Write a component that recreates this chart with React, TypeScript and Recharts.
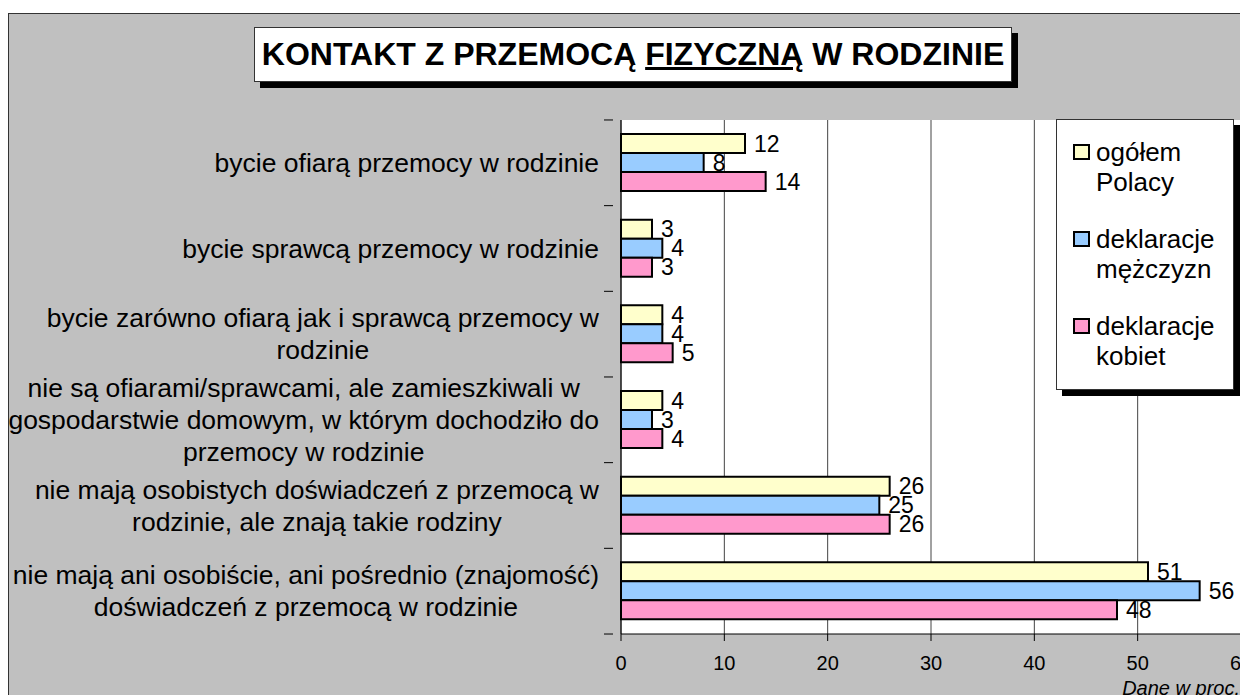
import React from 'react';
import { BarChart, Bar, XAxis, YAxis, CartesianGrid, LabelList } from 'recharts';

const categories = [
  ['bycie ofiarą przemocy w rodzinie'],
  ['bycie sprawcą przemocy w rodzinie'],
  ['bycie zarówno ofiarą jak i sprawcą przemocy w', 'rodzinie'],
  ['nie są ofiarami/sprawcami, ale zamieszkiwali w', 'gospodarstwie domowym, w którym dochodziło do', 'przemocy w rodzinie'],
  ['nie mają osobistych doświadczeń z przemocą w', 'rodzinie, ale znają takie rodziny'],
  ['nie mają ani osobiście, ani pośrednio (znajomość)', 'doświadczeń z przemocą w rodzinie'],
];

const ogolem = [12, 3, 4, 4, 26, 51];
const mezczyzni = [8, 4, 4, 3, 25, 56];
const kobiety = [14, 3, 5, 4, 26, 48];

const xTicks = [0, 10, 20, 30, 40, 50, 60];

const series = [
  { key: 'ogolem', name: ['ogółem', 'Polacy'], color: '#ffffcc' },
  { key: 'mezczyzni', name: ['deklaracje', 'mężczyzn'], color: '#99ccff' },
  { key: 'kobiety', name: ['deklaracje', 'kobiet'], color: '#ff99cc' },
];

const data = categories.map((lines, i) => ({
  label: lines.join(' '),
  ogolem: ogolem[i],
  mezczyzni: mezczyzni[i],
  kobiety: kobiety[i],
}));

const FONT = "'Liberation Sans', Arial, sans-serif";
const LABEL_SIZE = 26.5;
const LINE_H = 32;

let ctx: CanvasRenderingContext2D | null = null;
const measure = (s: string) => {
  if (!ctx) ctx = document.createElement('canvas').getContext('2d');
  if (!ctx) return s.length * 12;
  ctx.font = `${LABEL_SIZE}px ${FONT}`;
  return ctx.measureText(s).width;
};

// category label, centred lines, right-aligned block; tick marks sit between categories
const CategoryTick = (props: any) => {
  const { x, y, index } = props;
  const lines = categories[index] || [];
  const right = x - 14;
  const maxW = Math.max(...lines.map(measure));
  const cx = right - maxW / 2;
  const band = 85.7;
  const startY = y - ((lines.length - 1) * LINE_H) / 2;
  return (
    <g>
      <line x1={x - 9} x2={x} y1={y - band / 2} y2={y - band / 2} stroke="#000" />
      {index === categories.length - 1 && (
        <line x1={x - 9} x2={x} y1={y + band / 2} y2={y + band / 2} stroke="#000" />
      )}
      <text textAnchor="middle" fontSize={LABEL_SIZE} fontFamily={FONT} fill="#000">
        {lines.map((l: string, i: number) => (
          <tspan key={i} x={cx} y={startY + i * LINE_H} dy="0.35em">
            {l}
          </tspan>
        ))}
      </text>
    </g>
  );
};

const LegendBox = () => (
  <div
    style={{
      position: 'absolute',
      left: 1047,
      top: 105,
      width: 178,
      height: 271,
      boxSizing: 'border-box',
      background: '#fff',
      border: '1px solid #333',
      boxShadow: '6px 6px 0 #000',
      padding: '17px 0 0 16px',
      fontSize: 26,
      lineHeight: '30px',
      color: '#000',
    }}
  >
    {series.map((s) => (
      <div key={s.key} style={{ display: 'flex', alignItems: 'flex-start', marginBottom: 27 }}>
        <span
          style={{
            width: 13,
            height: 12,
            background: s.color,
            border: '2px solid #000',
            marginTop: 7,
            marginRight: 6,
            flexShrink: 0,
          }}
        />
        <span>
          {s.name[0]}
          <br />
          {s.name[1]}
        </span>
      </div>
    ))}
  </div>
);

export default function App() {
  return (
    <div
      style={{
        position: 'relative',
        top: 5,
        width: 1239,
        height: 686,
        background: '#c0c0c0',
        borderTop: '1px solid #333',
        borderLeft: '1px solid #333',
        fontFamily: FONT,
        overflow: 'hidden',
      }}
    >
      <div
        style={{
          position: 'absolute',
          left: 245,
          top: 13,
          width: 758,
          height: 55,
          boxSizing: 'border-box',
          background: '#fff',
          border: '1px solid #333',
          boxShadow: '6px 6px 0 #000',
          display: 'flex',
          alignItems: 'center',
          justifyContent: 'center',
          fontWeight: 'bold',
          fontSize: 32,
          color: '#000',
          whiteSpace: 'nowrap',
        }}
      >
        KONTAKT Z PRZEMOCĄ&nbsp;<span style={{ textDecoration: 'underline' }}>FIZYCZNĄ</span>&nbsp;W RODZINIE
      </div>
      <BarChart
        width={1239}
        height={686}
        data={data}
        layout="vertical"
        margin={{ top: 106, right: 7, bottom: 36, left: 0 }}
        barCategoryGap={16}
        barGap={0}
      >
        <CartesianGrid horizontal={false} vertical stroke="#444" fill="#fff" />
        <XAxis
          type="number"
          domain={[0, 60]}
          ticks={xTicks}
          interval={0}
          axisLine={{ stroke: '#000' }}
          tickLine={{ stroke: '#000' }}
          tickSize={7}
          tick={{ fontSize: 20, fill: '#000', fontFamily: FONT, dy: 13 }}
          height={30}
        />
        <YAxis
          type="category"
          dataKey="label"
          width={612}
          axisLine={{ stroke: '#000' }}
          tickLine={false}
          interval={0}
          tick={<CategoryTick />}
        />
        {series.map((s) => (
          <Bar
            key={s.key}
            dataKey={s.key}
            fill={s.color}
            stroke="#000"
            strokeWidth={2}
            barSize={19}
            isAnimationActive={false}
          >
            <LabelList
              dataKey={s.key}
              position="right"
              offset={9}
              fontSize={23}
              fill="#000"
              fontFamily={FONT}
            />
          </Bar>
        ))}
      </BarChart>
      <LegendBox />
      <div
        style={{
          position: 'absolute',
          right: 8,
          top: 663,
          fontStyle: 'italic',
          fontSize: 20,
          color: '#000',
        }}
      >
        Dane w proc.
      </div>
    </div>
  );
}
